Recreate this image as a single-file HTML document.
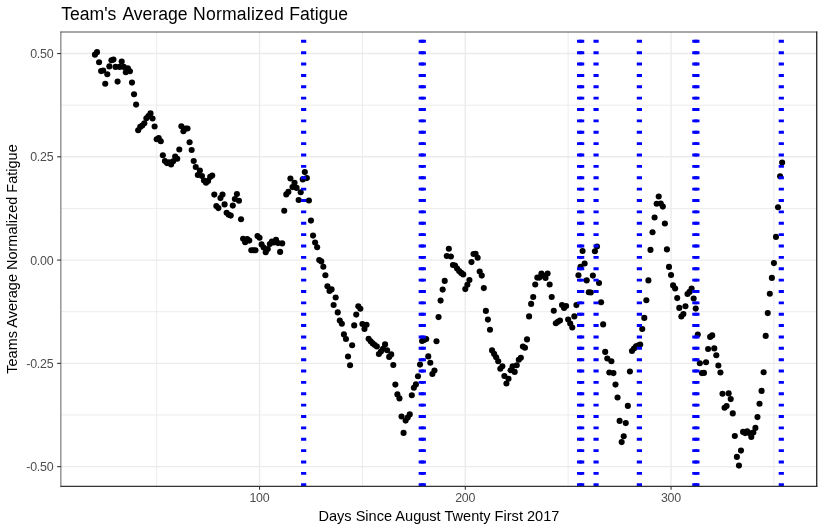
<!DOCTYPE html>
<html lang="en"><head><meta charset="utf-8"><title>Team's Average Normalized Fatigue</title>
<style>html,body{margin:0;padding:0;background:#fff;overflow:hidden}svg{display:block;will-change:transform}text{font-family:"Liberation Sans",Arial,Helvetica,sans-serif}</style></head><body>
<svg width="824" height="532" viewBox="0 0 824 532">
<rect width="824" height="532" fill="#fff"/>
<g stroke="#ebebeb" stroke-width="0.95" fill="none">
<path d="M61.0 105.19H816.5"/>
<path d="M61.0 208.46H816.5"/>
<path d="M61.0 311.74H816.5"/>
<path d="M61.0 415.01H816.5"/>
<path d="M156.68 32.0V486.5"/>
<path d="M362.43 32.0V486.5"/>
<path d="M568.17 32.0V486.5"/>
<path d="M773.92 32.0V486.5"/>
</g>
<g stroke="#ebebeb" stroke-width="1.42" fill="none">
<path d="M61.0 53.55H816.5"/>
<path d="M61.0 156.83H816.5"/>
<path d="M61.0 260.10H816.5"/>
<path d="M61.0 363.38H816.5"/>
<path d="M61.0 466.65H816.5"/>
<path d="M259.55 32.0V486.5"/>
<path d="M465.30 32.0V486.5"/>
<path d="M671.05 32.0V486.5"/>
</g>
<g fill="#000">
<circle cx="94.95" cy="54.67" r="3.05"/>
<circle cx="97.01" cy="52.13" r="3.05"/>
<circle cx="99.06" cy="62.30" r="3.05"/>
<circle cx="101.12" cy="71.10" r="3.05"/>
<circle cx="103.18" cy="70.50" r="3.05"/>
<circle cx="105.24" cy="83.80" r="3.05"/>
<circle cx="107.30" cy="74.20" r="3.05"/>
<circle cx="109.35" cy="66.40" r="3.05"/>
<circle cx="111.41" cy="60.20" r="3.05"/>
<circle cx="113.47" cy="59.60" r="3.05"/>
<circle cx="115.53" cy="66.90" r="3.05"/>
<circle cx="117.58" cy="81.60" r="3.05"/>
<circle cx="119.64" cy="66.90" r="3.05"/>
<circle cx="121.70" cy="61.50" r="3.05"/>
<circle cx="123.75" cy="66.90" r="3.05"/>
<circle cx="125.81" cy="72.30" r="3.05"/>
<circle cx="127.87" cy="68.40" r="3.05"/>
<circle cx="129.93" cy="71.30" r="3.05"/>
<circle cx="131.99" cy="82.60" r="3.05"/>
<circle cx="134.04" cy="94.30" r="3.05"/>
<circle cx="136.10" cy="104.60" r="3.05"/>
<circle cx="138.16" cy="130.30" r="3.05"/>
<circle cx="140.22" cy="126.90" r="3.05"/>
<circle cx="142.27" cy="125.60" r="3.05"/>
<circle cx="144.33" cy="123.30" r="3.05"/>
<circle cx="146.39" cy="118.30" r="3.05"/>
<circle cx="148.44" cy="116.10" r="3.05"/>
<circle cx="150.50" cy="113.40" r="3.05"/>
<circle cx="152.56" cy="118.50" r="3.05"/>
<circle cx="154.62" cy="126.50" r="3.05"/>
<circle cx="156.68" cy="139.30" r="3.05"/>
<circle cx="158.73" cy="138.00" r="3.05"/>
<circle cx="160.79" cy="141.30" r="3.05"/>
<circle cx="162.85" cy="155.25" r="3.05"/>
<circle cx="164.91" cy="161.00" r="3.05"/>
<circle cx="166.96" cy="163.10" r="3.05"/>
<circle cx="169.02" cy="162.25" r="3.05"/>
<circle cx="171.08" cy="164.40" r="3.05"/>
<circle cx="173.13" cy="161.25" r="3.05"/>
<circle cx="175.19" cy="156.50" r="3.05"/>
<circle cx="177.25" cy="158.75" r="3.05"/>
<circle cx="179.31" cy="149.50" r="3.05"/>
<circle cx="181.37" cy="126.25" r="3.05"/>
<circle cx="183.42" cy="131.20" r="3.05"/>
<circle cx="185.48" cy="128.50" r="3.05"/>
<circle cx="187.54" cy="128.50" r="3.05"/>
<circle cx="189.60" cy="142.25" r="3.05"/>
<circle cx="191.65" cy="150.00" r="3.05"/>
<circle cx="193.71" cy="161.00" r="3.05"/>
<circle cx="195.77" cy="167.00" r="3.05"/>
<circle cx="197.82" cy="175.00" r="3.05"/>
<circle cx="199.88" cy="170.60" r="3.05"/>
<circle cx="201.94" cy="176.00" r="3.05"/>
<circle cx="204.00" cy="180.60" r="3.05"/>
<circle cx="206.06" cy="182.75" r="3.05"/>
<circle cx="208.11" cy="180.90" r="3.05"/>
<circle cx="210.17" cy="176.90" r="3.05"/>
<circle cx="212.23" cy="175.60" r="3.05"/>
<circle cx="214.29" cy="194.60" r="3.05"/>
<circle cx="216.34" cy="206.00" r="3.05"/>
<circle cx="218.40" cy="208.10" r="3.05"/>
<circle cx="220.46" cy="198.10" r="3.05"/>
<circle cx="222.51" cy="194.60" r="3.05"/>
<circle cx="224.57" cy="204.40" r="3.05"/>
<circle cx="226.63" cy="212.75" r="3.05"/>
<circle cx="228.69" cy="214.75" r="3.05"/>
<circle cx="230.75" cy="215.60" r="3.05"/>
<circle cx="232.80" cy="205.60" r="3.05"/>
<circle cx="234.86" cy="199.00" r="3.05"/>
<circle cx="236.92" cy="194.10" r="3.05"/>
<circle cx="238.98" cy="200.80" r="3.05"/>
<circle cx="241.03" cy="219.20" r="3.05"/>
<circle cx="243.09" cy="238.75" r="3.05"/>
<circle cx="245.15" cy="242.25" r="3.05"/>
<circle cx="247.20" cy="239.00" r="3.05"/>
<circle cx="249.26" cy="240.60" r="3.05"/>
<circle cx="251.32" cy="250.25" r="3.05"/>
<circle cx="253.38" cy="250.25" r="3.05"/>
<circle cx="255.44" cy="250.25" r="3.05"/>
<circle cx="257.49" cy="236.00" r="3.05"/>
<circle cx="259.55" cy="237.75" r="3.05"/>
<circle cx="261.61" cy="244.40" r="3.05"/>
<circle cx="263.67" cy="247.50" r="3.05"/>
<circle cx="265.72" cy="252.25" r="3.05"/>
<circle cx="267.78" cy="249.00" r="3.05"/>
<circle cx="269.84" cy="244.00" r="3.05"/>
<circle cx="271.89" cy="241.50" r="3.05"/>
<circle cx="273.95" cy="242.50" r="3.05"/>
<circle cx="276.01" cy="239.75" r="3.05"/>
<circle cx="278.07" cy="243.10" r="3.05"/>
<circle cx="280.12" cy="251.90" r="3.05"/>
<circle cx="282.18" cy="243.40" r="3.05"/>
<circle cx="284.24" cy="210.75" r="3.05"/>
<circle cx="286.30" cy="194.40" r="3.05"/>
<circle cx="288.36" cy="191.90" r="3.05"/>
<circle cx="290.41" cy="178.50" r="3.05"/>
<circle cx="292.47" cy="187.10" r="3.05"/>
<circle cx="294.53" cy="182.75" r="3.05"/>
<circle cx="296.59" cy="187.90" r="3.05"/>
<circle cx="298.64" cy="200.00" r="3.05"/>
<circle cx="300.70" cy="192.25" r="3.05"/>
<circle cx="302.76" cy="179.40" r="3.05"/>
<circle cx="304.81" cy="172.10" r="3.05"/>
<circle cx="306.87" cy="178.10" r="3.05"/>
<circle cx="308.93" cy="200.50" r="3.05"/>
<circle cx="310.99" cy="220.60" r="3.05"/>
<circle cx="313.05" cy="235.60" r="3.05"/>
<circle cx="315.10" cy="242.50" r="3.05"/>
<circle cx="317.16" cy="247.25" r="3.05"/>
<circle cx="319.22" cy="260.00" r="3.05"/>
<circle cx="321.28" cy="261.40" r="3.05"/>
<circle cx="323.33" cy="266.80" r="3.05"/>
<circle cx="325.39" cy="275.25" r="3.05"/>
<circle cx="327.45" cy="286.25" r="3.05"/>
<circle cx="329.51" cy="291.00" r="3.05"/>
<circle cx="331.56" cy="289.40" r="3.05"/>
<circle cx="333.62" cy="305.00" r="3.05"/>
<circle cx="335.68" cy="297.50" r="3.05"/>
<circle cx="337.74" cy="312.40" r="3.05"/>
<circle cx="339.79" cy="320.60" r="3.05"/>
<circle cx="341.85" cy="323.75" r="3.05"/>
<circle cx="343.91" cy="334.40" r="3.05"/>
<circle cx="345.97" cy="339.00" r="3.05"/>
<circle cx="348.02" cy="356.50" r="3.05"/>
<circle cx="350.08" cy="365.25" r="3.05"/>
<circle cx="352.14" cy="345.25" r="3.05"/>
<circle cx="354.20" cy="325.40" r="3.05"/>
<circle cx="356.25" cy="314.60" r="3.05"/>
<circle cx="358.31" cy="306.20" r="3.05"/>
<circle cx="360.37" cy="308.75" r="3.05"/>
<circle cx="362.43" cy="324.00" r="3.05"/>
<circle cx="364.48" cy="329.00" r="3.05"/>
<circle cx="366.54" cy="324.75" r="3.05"/>
<circle cx="368.60" cy="338.75" r="3.05"/>
<circle cx="370.66" cy="341.25" r="3.05"/>
<circle cx="372.71" cy="343.40" r="3.05"/>
<circle cx="374.77" cy="345.00" r="3.05"/>
<circle cx="376.83" cy="346.50" r="3.05"/>
<circle cx="378.89" cy="354.00" r="3.05"/>
<circle cx="380.94" cy="351.50" r="3.05"/>
<circle cx="383.00" cy="348.75" r="3.05"/>
<circle cx="385.06" cy="344.40" r="3.05"/>
<circle cx="387.12" cy="350.25" r="3.05"/>
<circle cx="389.17" cy="356.90" r="3.05"/>
<circle cx="391.23" cy="354.40" r="3.05"/>
<circle cx="393.29" cy="365.00" r="3.05"/>
<circle cx="395.35" cy="384.60" r="3.05"/>
<circle cx="397.40" cy="394.40" r="3.05"/>
<circle cx="399.46" cy="398.40" r="3.05"/>
<circle cx="401.52" cy="416.50" r="3.05"/>
<circle cx="403.58" cy="432.90" r="3.05"/>
<circle cx="405.63" cy="420.60" r="3.05"/>
<circle cx="407.69" cy="417.50" r="3.05"/>
<circle cx="409.75" cy="414.40" r="3.05"/>
<circle cx="411.81" cy="395.25" r="3.05"/>
<circle cx="413.86" cy="387.75" r="3.05"/>
<circle cx="415.92" cy="384.40" r="3.05"/>
<circle cx="417.98" cy="376.25" r="3.05"/>
<circle cx="420.04" cy="364.60" r="3.05"/>
<circle cx="422.09" cy="341.00" r="3.05"/>
<circle cx="424.15" cy="340.00" r="3.05"/>
<circle cx="426.21" cy="339.00" r="3.05"/>
<circle cx="428.27" cy="356.40" r="3.05"/>
<circle cx="430.32" cy="362.75" r="3.05"/>
<circle cx="432.38" cy="374.00" r="3.05"/>
<circle cx="434.44" cy="370.60" r="3.05"/>
<circle cx="436.50" cy="341.25" r="3.05"/>
<circle cx="438.55" cy="317.10" r="3.05"/>
<circle cx="440.61" cy="300.60" r="3.05"/>
<circle cx="442.67" cy="289.60" r="3.05"/>
<circle cx="444.73" cy="280.90" r="3.05"/>
<circle cx="446.78" cy="256.00" r="3.05"/>
<circle cx="448.84" cy="248.75" r="3.05"/>
<circle cx="450.90" cy="256.50" r="3.05"/>
<circle cx="452.96" cy="265.00" r="3.05"/>
<circle cx="455.01" cy="265.60" r="3.05"/>
<circle cx="457.07" cy="268.50" r="3.05"/>
<circle cx="459.13" cy="271.00" r="3.05"/>
<circle cx="461.19" cy="272.90" r="3.05"/>
<circle cx="463.24" cy="274.40" r="3.05"/>
<circle cx="465.30" cy="289.10" r="3.05"/>
<circle cx="467.36" cy="284.75" r="3.05"/>
<circle cx="469.42" cy="280.00" r="3.05"/>
<circle cx="471.47" cy="262.10" r="3.05"/>
<circle cx="473.53" cy="254.00" r="3.05"/>
<circle cx="475.59" cy="253.75" r="3.05"/>
<circle cx="477.65" cy="257.75" r="3.05"/>
<circle cx="479.70" cy="271.50" r="3.05"/>
<circle cx="481.76" cy="275.60" r="3.05"/>
<circle cx="483.82" cy="288.10" r="3.05"/>
<circle cx="485.88" cy="310.90" r="3.05"/>
<circle cx="487.93" cy="319.60" r="3.05"/>
<circle cx="489.99" cy="329.70" r="3.05"/>
<circle cx="492.05" cy="350.40" r="3.05"/>
<circle cx="494.11" cy="353.90" r="3.05"/>
<circle cx="496.16" cy="357.20" r="3.05"/>
<circle cx="498.22" cy="361.25" r="3.05"/>
<circle cx="500.28" cy="368.75" r="3.05"/>
<circle cx="502.34" cy="366.25" r="3.05"/>
<circle cx="504.39" cy="376.00" r="3.05"/>
<circle cx="506.45" cy="383.50" r="3.05"/>
<circle cx="508.51" cy="378.75" r="3.05"/>
<circle cx="510.57" cy="370.25" r="3.05"/>
<circle cx="512.62" cy="366.25" r="3.05"/>
<circle cx="514.68" cy="371.90" r="3.05"/>
<circle cx="516.74" cy="365.25" r="3.05"/>
<circle cx="518.79" cy="359.75" r="3.05"/>
<circle cx="520.85" cy="357.75" r="3.05"/>
<circle cx="522.91" cy="346.50" r="3.05"/>
<circle cx="524.97" cy="347.75" r="3.05"/>
<circle cx="527.02" cy="339.40" r="3.05"/>
<circle cx="529.08" cy="316.40" r="3.05"/>
<circle cx="531.14" cy="303.90" r="3.05"/>
<circle cx="533.20" cy="297.00" r="3.05"/>
<circle cx="535.25" cy="284.50" r="3.05"/>
<circle cx="537.31" cy="277.60" r="3.05"/>
<circle cx="539.37" cy="277.60" r="3.05"/>
<circle cx="541.43" cy="273.50" r="3.05"/>
<circle cx="543.49" cy="275.75" r="3.05"/>
<circle cx="545.54" cy="278.00" r="3.05"/>
<circle cx="547.60" cy="273.50" r="3.05"/>
<circle cx="549.66" cy="284.50" r="3.05"/>
<circle cx="551.72" cy="297.00" r="3.05"/>
<circle cx="553.77" cy="310.75" r="3.05"/>
<circle cx="555.83" cy="323.25" r="3.05"/>
<circle cx="557.89" cy="321.75" r="3.05"/>
<circle cx="559.95" cy="320.50" r="3.05"/>
<circle cx="562.00" cy="305.10" r="3.05"/>
<circle cx="564.06" cy="308.00" r="3.05"/>
<circle cx="566.12" cy="306.10" r="3.05"/>
<circle cx="568.17" cy="319.50" r="3.05"/>
<circle cx="570.23" cy="323.50" r="3.05"/>
<circle cx="572.29" cy="327.50" r="3.05"/>
<circle cx="574.35" cy="316.40" r="3.05"/>
<circle cx="576.40" cy="305.10" r="3.05"/>
<circle cx="578.46" cy="275.20" r="3.05"/>
<circle cx="580.52" cy="266.70" r="3.05"/>
<circle cx="582.58" cy="251.00" r="3.05"/>
<circle cx="584.63" cy="263.50" r="3.05"/>
<circle cx="586.69" cy="280.40" r="3.05"/>
<circle cx="588.75" cy="292.30" r="3.05"/>
<circle cx="590.81" cy="292.50" r="3.05"/>
<circle cx="592.87" cy="275.60" r="3.05"/>
<circle cx="594.92" cy="251.25" r="3.05"/>
<circle cx="596.98" cy="246.50" r="3.05"/>
<circle cx="599.04" cy="283.00" r="3.05"/>
<circle cx="601.10" cy="302.25" r="3.05"/>
<circle cx="603.15" cy="324.40" r="3.05"/>
<circle cx="605.21" cy="351.90" r="3.05"/>
<circle cx="607.27" cy="358.50" r="3.05"/>
<circle cx="609.32" cy="372.50" r="3.05"/>
<circle cx="611.38" cy="361.25" r="3.05"/>
<circle cx="613.44" cy="373.10" r="3.05"/>
<circle cx="615.50" cy="384.60" r="3.05"/>
<circle cx="617.55" cy="397.50" r="3.05"/>
<circle cx="619.61" cy="420.90" r="3.05"/>
<circle cx="621.67" cy="442.10" r="3.05"/>
<circle cx="623.73" cy="436.25" r="3.05"/>
<circle cx="625.78" cy="423.10" r="3.05"/>
<circle cx="627.84" cy="405.90" r="3.05"/>
<circle cx="629.90" cy="371.50" r="3.05"/>
<circle cx="631.96" cy="351.00" r="3.05"/>
<circle cx="634.01" cy="348.50" r="3.05"/>
<circle cx="636.07" cy="346.25" r="3.05"/>
<circle cx="638.13" cy="345.50" r="3.05"/>
<circle cx="640.19" cy="344.60" r="3.05"/>
<circle cx="642.25" cy="329.00" r="3.05"/>
<circle cx="644.30" cy="317.90" r="3.05"/>
<circle cx="646.36" cy="300.30" r="3.05"/>
<circle cx="648.42" cy="280.40" r="3.05"/>
<circle cx="650.48" cy="249.90" r="3.05"/>
<circle cx="652.53" cy="232.25" r="3.05"/>
<circle cx="654.59" cy="217.50" r="3.05"/>
<circle cx="656.65" cy="203.75" r="3.05"/>
<circle cx="658.71" cy="196.50" r="3.05"/>
<circle cx="660.76" cy="203.50" r="3.05"/>
<circle cx="662.82" cy="206.60" r="3.05"/>
<circle cx="664.88" cy="223.50" r="3.05"/>
<circle cx="666.93" cy="249.40" r="3.05"/>
<circle cx="668.99" cy="266.90" r="3.05"/>
<circle cx="671.05" cy="275.00" r="3.05"/>
<circle cx="673.11" cy="285.40" r="3.05"/>
<circle cx="675.16" cy="288.50" r="3.05"/>
<circle cx="677.22" cy="298.10" r="3.05"/>
<circle cx="679.28" cy="307.90" r="3.05"/>
<circle cx="681.34" cy="316.50" r="3.05"/>
<circle cx="683.39" cy="314.00" r="3.05"/>
<circle cx="685.45" cy="306.25" r="3.05"/>
<circle cx="687.51" cy="294.00" r="3.05"/>
<circle cx="689.57" cy="291.90" r="3.05"/>
<circle cx="691.62" cy="288.50" r="3.05"/>
<circle cx="693.68" cy="298.50" r="3.05"/>
<circle cx="695.74" cy="308.60" r="3.05"/>
<circle cx="697.80" cy="334.50" r="3.05"/>
<circle cx="699.86" cy="363.30" r="3.05"/>
<circle cx="701.91" cy="373.10" r="3.05"/>
<circle cx="703.97" cy="372.90" r="3.05"/>
<circle cx="706.03" cy="362.30" r="3.05"/>
<circle cx="708.09" cy="349.00" r="3.05"/>
<circle cx="710.14" cy="336.90" r="3.05"/>
<circle cx="712.20" cy="335.40" r="3.05"/>
<circle cx="714.26" cy="348.40" r="3.05"/>
<circle cx="716.31" cy="355.30" r="3.05"/>
<circle cx="718.37" cy="365.50" r="3.05"/>
<circle cx="720.43" cy="372.50" r="3.05"/>
<circle cx="722.49" cy="393.75" r="3.05"/>
<circle cx="724.54" cy="407.75" r="3.05"/>
<circle cx="726.60" cy="406.00" r="3.05"/>
<circle cx="728.66" cy="393.40" r="3.05"/>
<circle cx="730.72" cy="399.10" r="3.05"/>
<circle cx="732.77" cy="413.40" r="3.05"/>
<circle cx="734.83" cy="436.00" r="3.05"/>
<circle cx="736.89" cy="456.90" r="3.05"/>
<circle cx="738.95" cy="465.60" r="3.05"/>
<circle cx="741.00" cy="450.60" r="3.05"/>
<circle cx="743.06" cy="431.90" r="3.05"/>
<circle cx="745.12" cy="433.10" r="3.05"/>
<circle cx="747.18" cy="431.25" r="3.05"/>
<circle cx="749.24" cy="433.10" r="3.05"/>
<circle cx="751.29" cy="436.90" r="3.05"/>
<circle cx="753.35" cy="432.50" r="3.05"/>
<circle cx="755.41" cy="427.90" r="3.05"/>
<circle cx="757.47" cy="417.10" r="3.05"/>
<circle cx="759.52" cy="403.75" r="3.05"/>
<circle cx="761.58" cy="390.90" r="3.05"/>
<circle cx="763.64" cy="372.25" r="3.05"/>
<circle cx="765.69" cy="335.90" r="3.05"/>
<circle cx="767.75" cy="313.10" r="3.05"/>
<circle cx="769.81" cy="293.80" r="3.05"/>
<circle cx="771.87" cy="277.90" r="3.05"/>
<circle cx="773.92" cy="263.10" r="3.05"/>
<circle cx="775.98" cy="236.90" r="3.05"/>
<circle cx="778.04" cy="207.25" r="3.05"/>
<circle cx="780.10" cy="176.25" r="3.05"/>
<circle cx="782.15" cy="162.50" r="3.05"/>
</g>
<g stroke="#0000ff" stroke-width="5.2" stroke-dasharray="2.9 8.47" fill="none">
<path d="M303.66 486.2V32.0"/>
<path d="M421.25 486.2V32.0"/>
<path d="M423.30 486.2V32.0"/>
<path d="M579.60 486.2V32.0"/>
<path d="M581.65 486.2V32.0"/>
<path d="M596.07 486.2V32.0"/>
<path d="M639.40 486.2V32.0"/>
<path d="M694.85 486.2V32.0"/>
<path d="M696.90 486.2V32.0"/>
<path d="M781.30 486.2V32.0"/>
</g>
<g stroke="#333" fill="none">
<path d="M60.5 32H817.4" stroke-width="0.86"/>
<path d="M60.88 31.6V487.1" stroke-width="0.78"/>
<path d="M816.7 31.6V487.1" stroke-width="1.4"/>
<path d="M60.5 486.42H817.4" stroke-width="1.35"/>
</g>
<g stroke="#333" stroke-width="1.07">
<path d="M57.1 53.55H61.0"/>
<path d="M57.1 156.83H61.0"/>
<path d="M57.1 260.10H61.0"/>
<path d="M57.1 363.38H61.0"/>
<path d="M57.1 466.65H61.0"/>
<path d="M259.55 486.5V489.8"/>
<path d="M465.30 486.5V489.8"/>
<path d="M671.05 486.5V489.8"/>
</g>
<g fill="#4d4d4d" font-size="12.4" letter-spacing="-0.2">
<text x="53.5" y="57.95" text-anchor="end">0.50</text>
<text x="53.5" y="161.23" text-anchor="end">0.25</text>
<text x="53.5" y="264.50" text-anchor="end">0.00</text>
<text x="53.5" y="367.77" text-anchor="end">-0.25</text>
<text x="53.5" y="471.05" text-anchor="end">-0.50</text>
<text x="259.45" y="501.6" text-anchor="middle">100</text>
<text x="465.20" y="501.6" text-anchor="middle">200</text>
<text x="670.95" y="501.6" text-anchor="middle">300</text>
</g>
<text y="19.5" font-size="17.6" fill="#000"><tspan x="61.2">Team's</tspan> <tspan x="122.4">Average</tspan> <tspan x="193.0" letter-spacing="0.2">Normalized</tspan> <tspan x="289.3">Fatigue</tspan></text>
<text x="438.9" y="520.7" font-size="14.57" fill="#000" text-anchor="middle">Days Since August Twenty First 2017</text>
<text transform="translate(17.2 259.0) rotate(-90)" font-size="14.5" fill="#000" text-anchor="middle">Teams Average Normalized Fatigue</text>
</svg></body></html>
